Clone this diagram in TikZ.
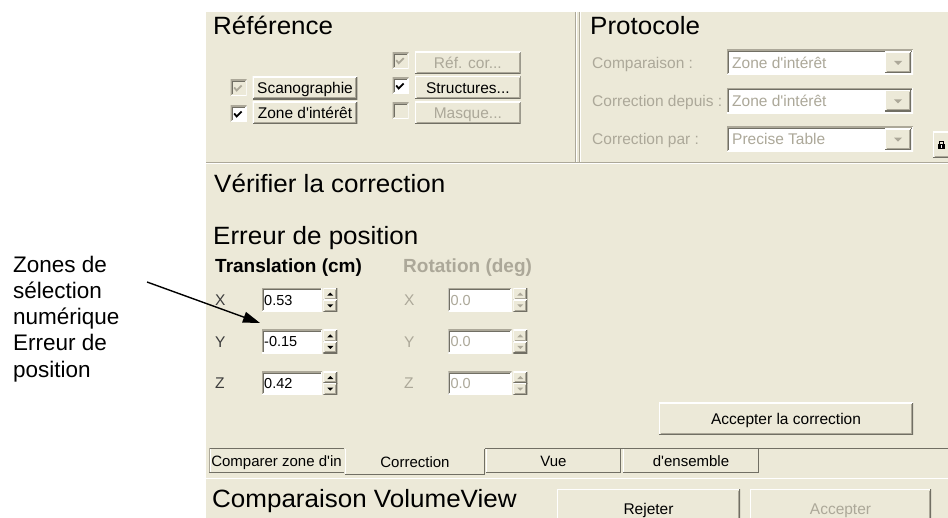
\documentclass[tikz,border=0pt]{standalone}
\usepackage{fontspec}
\setmainfont[Ligatures=TeXOff]{Liberation Sans}
\newfontfamily\hfont[FakeStretch=1.04,Ligatures=TeXOff]{Liberation Sans}
\usetikzlibrary{arrows.meta,calc}
\definecolor{bg}{HTML}{ECE9D8}
\definecolor{sh}{HTML}{ACA899}
\definecolor{dk}{HTML}{716F64}
\definecolor{gt}{HTML}{ACA899}
\definecolor{lbl}{HTML}{3C3C3C}
\newcommand\uib[7]{\node[#6,minimum width={(#4)-(#2)},minimum height={(#5)-(#3)}] (#1) at ({((#2)+(#4))/2},{((#3)+(#5))/2}) {#7};}
\newcommand\ckm[2]{\draw[#2,line width=1.8pt,line join=miter] ([shift={(3.5pt,-7.5pt)}]#1.north west) -- ([shift={(6pt,-10.5pt)}]#1.north west) -- ([shift={(11pt,-5.5pt)}]#1.north west);}
\newcommand\spin[5]{%
 \uib{#1u}{#2}{#3}{(#2)+14}{((#3)+(#4))/2}{raised}{}
 \uib{#1d}{#2}{((#3)+(#4))/2}{(#2)+14}{#4}{raised}{}
 \fill[#5] ([shift={(-3pt,-1.5pt)}]#1u.center) -- ([shift={(3pt,-1.5pt)}]#1u.center) -- ([shift={(0pt,1.5pt)}]#1u.center) -- cycle;
 \fill[#5] ([shift={(-3pt,1.5pt)}]#1d.center) -- ([shift={(3pt,1.5pt)}]#1d.center) -- ([shift={(0pt,-1.5pt)}]#1d.center) -- cycle;}
\newcommand\dropbtn[3]{% name, y1, y2
 \uib{#1}{885}{#2}{911}{#3}{raised}{}
 \fill[gt] ([shift={(-4pt,1.5pt)}]#1.center) -- ([shift={(4pt,1.5pt)}]#1.center) -- ([shift={(0pt,-2.5pt)}]#1.center) -- cycle;}
\begin{document}
\begin{tikzpicture}[x=1pt,y=-1pt,
  raised/.style={fill=bg,inner sep=0,outer sep=0,text height=11.1pt,text depth=0pt,font=\fontsize{15.5}{18}\selectfont,
    path picture={
      \draw[white,line width=2pt] (path picture bounding box.south west) -- (path picture bounding box.north west) -- (path picture bounding box.north east);
      \draw[dk,line width=2pt] (path picture bounding box.north east) -- (path picture bounding box.south east) -- (path picture bounding box.south west);
      \draw[sh,line width=1pt] ([shift={(-1.5pt,-1.5pt)}]path picture bounding box.north east) -- ([shift={(-1.5pt,1.5pt)}]path picture bounding box.south east) -- ([shift={(1.5pt,1.5pt)}]path picture bounding box.south west);
    }},
  sunken/.style={fill=#1,inner sep=0,outer sep=0,
    path picture={
      \draw[sh,line width=2pt] (path picture bounding box.south west) -- (path picture bounding box.north west) -- (path picture bounding box.north east);
      \draw[white,line width=2pt] (path picture bounding box.north east) -- (path picture bounding box.south east) -- (path picture bounding box.south west);
      \draw[dk,line width=1pt] ([shift={(1.5pt,1.5pt)}]path picture bounding box.south west) -- ([shift={(1.5pt,-1.5pt)}]path picture bounding box.north west) -- ([shift={(-1.5pt,-1.5pt)}]path picture bounding box.north east);
    }},
  sunken/.default=white,
  head/.style={font=\hfont\fontsize{25}{30}\selectfont,inner sep=0,anchor=base west},
  uitext/.style={font=\fontsize{15.5}{18}\selectfont,text height=11.1pt,text depth=0pt,inner sep=0},
  numtext/.style={font=\fontsize{14.5}{17}\selectfont,text height=10.4pt,text depth=0pt,inner sep=0,anchor=west},
  tabn/.style={fill=bg,inner sep=0,outer sep=0,font=\fontsize{15}{18}\selectfont,text height=10.7pt,text depth=0pt},
  bold/.style={font=\bfseries\fontsize{19}{22}\selectfont,inner sep=0,anchor=base west}
]
\useasboundingbox (0,0) rectangle (948,518);
\clip (0,0) rectangle (948,518);
\fill[white] (0,0) rectangle (948,518);
\fill[bg] (206,12) rectangle (948,518);
% separators of the top section
\draw[sh] (206,162.5) -- (948,162.5);
\draw[white] (206,163.5) -- (948,163.5);
\draw[sh] (575.5,12) -- (575.5,163);
\draw[white] (576.5,12) -- (576.5,162);
\draw[sh] (579.5,12) -- (579.5,163);
\draw[white] (580.5,12) -- (580.5,162);
% Reference
\node[head] (ref) at (213,35) {Référence};
\uib{cscan}{230.7}{80}{246.7}{96}{sunken=bg}{}
\ckm{cscan}{gt}
\uib{czone}{230.7}{106}{246.7}{122}{sunken}{}
\ckm{czone}{black}
\uib{bscan}{252.7}{77}{357.3}{99.3}{raised}{Scanographie}
\uib{bzone}{252.7}{101.7}{357.3}{124}{raised}{Zone d'intérêt}
\uib{cref}{392.7}{52.7}{408.7}{68.7}{sunken=bg}{}
\ckm{cref}{gt}
\uib{cstr}{392.7}{78}{408.7}{94}{sunken}{}
\ckm{cstr}{black}
\uib{cmas}{392.7}{103}{408.7}{119}{sunken=bg}{}
\uib{bref}{415}{51.7}{520.7}{74}{raised,text=gt}{Réf. cor...}
\uib{bstr}{415}{76.5}{520.7}{99}{raised}{Structures...}
\uib{bmas}{415}{101.7}{520.7}{124}{raised,text=gt}{Masque...}
% Protocole
\node[head] (proto) at (590,35) {Protocole};
\node[uitext,anchor=west,text=gt] (l1) at (592,62.5) {Comparaison :};
\node[uitext,anchor=west,text=gt] (l2) at (592,100.8) {Correction depuis :};
\node[uitext,anchor=west,text=gt] (l3) at (592,139.2) {Correction par :};
\uib{c1}{727}{50}{913}{75}{sunken}{}
\uib{c2}{727}{88.3}{913}{113.3}{sunken}{}
\uib{c3}{727}{126.7}{913}{151.7}{sunken}{}
\node[uitext,anchor=west,text=gt] (c1t) at ([xshift=5pt]c1.west) {Zone d'intérêt};
\node[uitext,anchor=west,text=gt] (c2t) at ([xshift=5pt]c2.west) {Zone d'intérêt};
\node[uitext,anchor=west,text=gt] (c3t) at ([xshift=5pt]c3.west) {Precise Table};
\dropbtn{d1}{52}{73}
\dropbtn{d2}{90.3}{111.3}
\dropbtn{d3}{128.7}{149.7}
\uib{lock}{933}{132}{950}{158}{raised}{}
\fill ([shift={(-3.3pt,-4pt)}]lock.center) rectangle ([shift={(3.3pt,1pt)}]lock.center);
\draw[line width=1.3pt] ([shift={(-2pt,1pt)}]lock.center) -- ([shift={(-2pt,3.8pt)}]lock.center) -- ([shift={(2pt,3.8pt)}]lock.center) -- ([shift={(2pt,1pt)}]lock.center);
\fill[white] ([shift={(-0.7pt,-2.6pt)}]lock.center) rectangle ([shift={(0.7pt,-0.4pt)}]lock.center);
% Verifier
\node[head] (verif) at (214,193) {Vérifier la correction};
\node[head] (err) at (213,245) {Erreur de position};
\node[bold] (trans) at (215,273) {Translation (cm)};
\node[bold,text=gt] (rot) at (403,273) {Rotation (deg)};
% rows
\node[uitext,anchor=west,text=lbl] (lx) at (215,300) {X};
\node[uitext,anchor=west,text=lbl] (ly) at (215,341.7) {Y};
\node[uitext,anchor=west,text=lbl] (lz) at (215,383.3) {Z};
\uib{ex}{262}{288.3}{322}{311.7}{sunken}{}
\uib{ey}{262}{330}{322}{353.3}{sunken}{}
\uib{ez}{262}{371.7}{322}{395}{sunken}{}
\node[numtext] (exv) at ([xshift=2pt]ex.west) {0.53};
\node[numtext] (eyv) at ([xshift=2pt]ey.west) {-0.15};
\node[numtext] (ezv) at ([xshift=2pt]ez.west) {0.42};
\spin{sx}{323.3}{288.3}{311.7}{black}
\spin{sy}{323.3}{330}{353.3}{black}
\spin{sz}{323.3}{371.7}{395}{black}
\node[uitext,anchor=west,text=gt] (rlx) at (404,300) {X};
\node[uitext,anchor=west,text=gt] (rly) at (404,341.7) {Y};
\node[uitext,anchor=west,text=gt] (rlz) at (404,383.3) {Z};
\uib{rx}{448.3}{288.3}{511.7}{311.7}{sunken}{}
\uib{ry}{448.3}{330}{511.7}{353.3}{sunken}{}
\uib{rz}{448.3}{371.7}{511.7}{395}{sunken}{}
\node[numtext,text=gt] (rxv) at ([xshift=2pt]rx.west) {0.0};
\node[numtext,text=gt] (ryv) at ([xshift=2pt]ry.west) {0.0};
\node[numtext,text=gt] (rzv) at ([xshift=2pt]rz.west) {0.0};
\spin{tx}{513.3}{288.3}{311.7}{gt}
\spin{ty}{513.3}{330}{353.3}{gt}
\spin{tz}{513.3}{371.7}{395}{gt}
\uib{bacc}{659}{403}{913}{435}{raised}{Accepter la correction}
% tabs
\uib{t1}{209}{449}{344}{473}{tabn}{Comparer zone d'in}
\uib{t2}{345}{449}{485}{475}{tabn}{Correction}
\uib{t3}{486}{449}{621}{473}{tabn}{Vue}
\uib{t4}{623}{449}{759}{473}{tabn}{d'ensemble}
\draw[dk] (209,448.5) -- (344,448.5);
\draw[dk] (485,448.5) -- (948,448.5);
\draw[sh] (209.5,448) -- (209.5,473);
\draw[white] (210.5,449) -- (210.5,472);
\draw[dk] (209,472.5) -- (344,472.5);
\draw[white] (345.5,449) -- (345.5,474);
\draw[dk] (345,474.5) -- (485,474.5);
\draw[dk] (484.5,449) -- (484.5,475);
\draw[white] (486.5,449) -- (486.5,472);
\draw[dk] (486,472.5) -- (621,472.5);
\draw[dk] (620.5,448) -- (620.5,473);
\draw[white] (623.5,449) -- (623.5,472);
\draw[dk] (623,472.5) -- (759,472.5);
\draw[dk] (758.5,448) -- (758.5,473);
\draw[white] (206,478.5) -- (948,478.5);
% bottom
\node[head] (cvv) at (212,507) {Comparaison VolumeView};
\uib{brej}{557}{489}{740}{528}{raised}{Rejeter}
\uib{bacp}{750}{489}{931}{528}{raised,text=gt}{Accepter}
% annotation
\node[anchor=north west,align=left,inner sep=0,font=\fontsize{22.5}{26.3}\selectfont] (note) at (13,255.5) {Zones de\\sélection\\numérique\\Erreur de\\position};
\coordinate (astart) at (147,282);
\draw[line width=1.4pt,-{Triangle[length=17pt,width=11pt]}] (astart) -- ([shift={(-2pt,7pt)}]ey.north west);
\end{tikzpicture}
\end{document}
